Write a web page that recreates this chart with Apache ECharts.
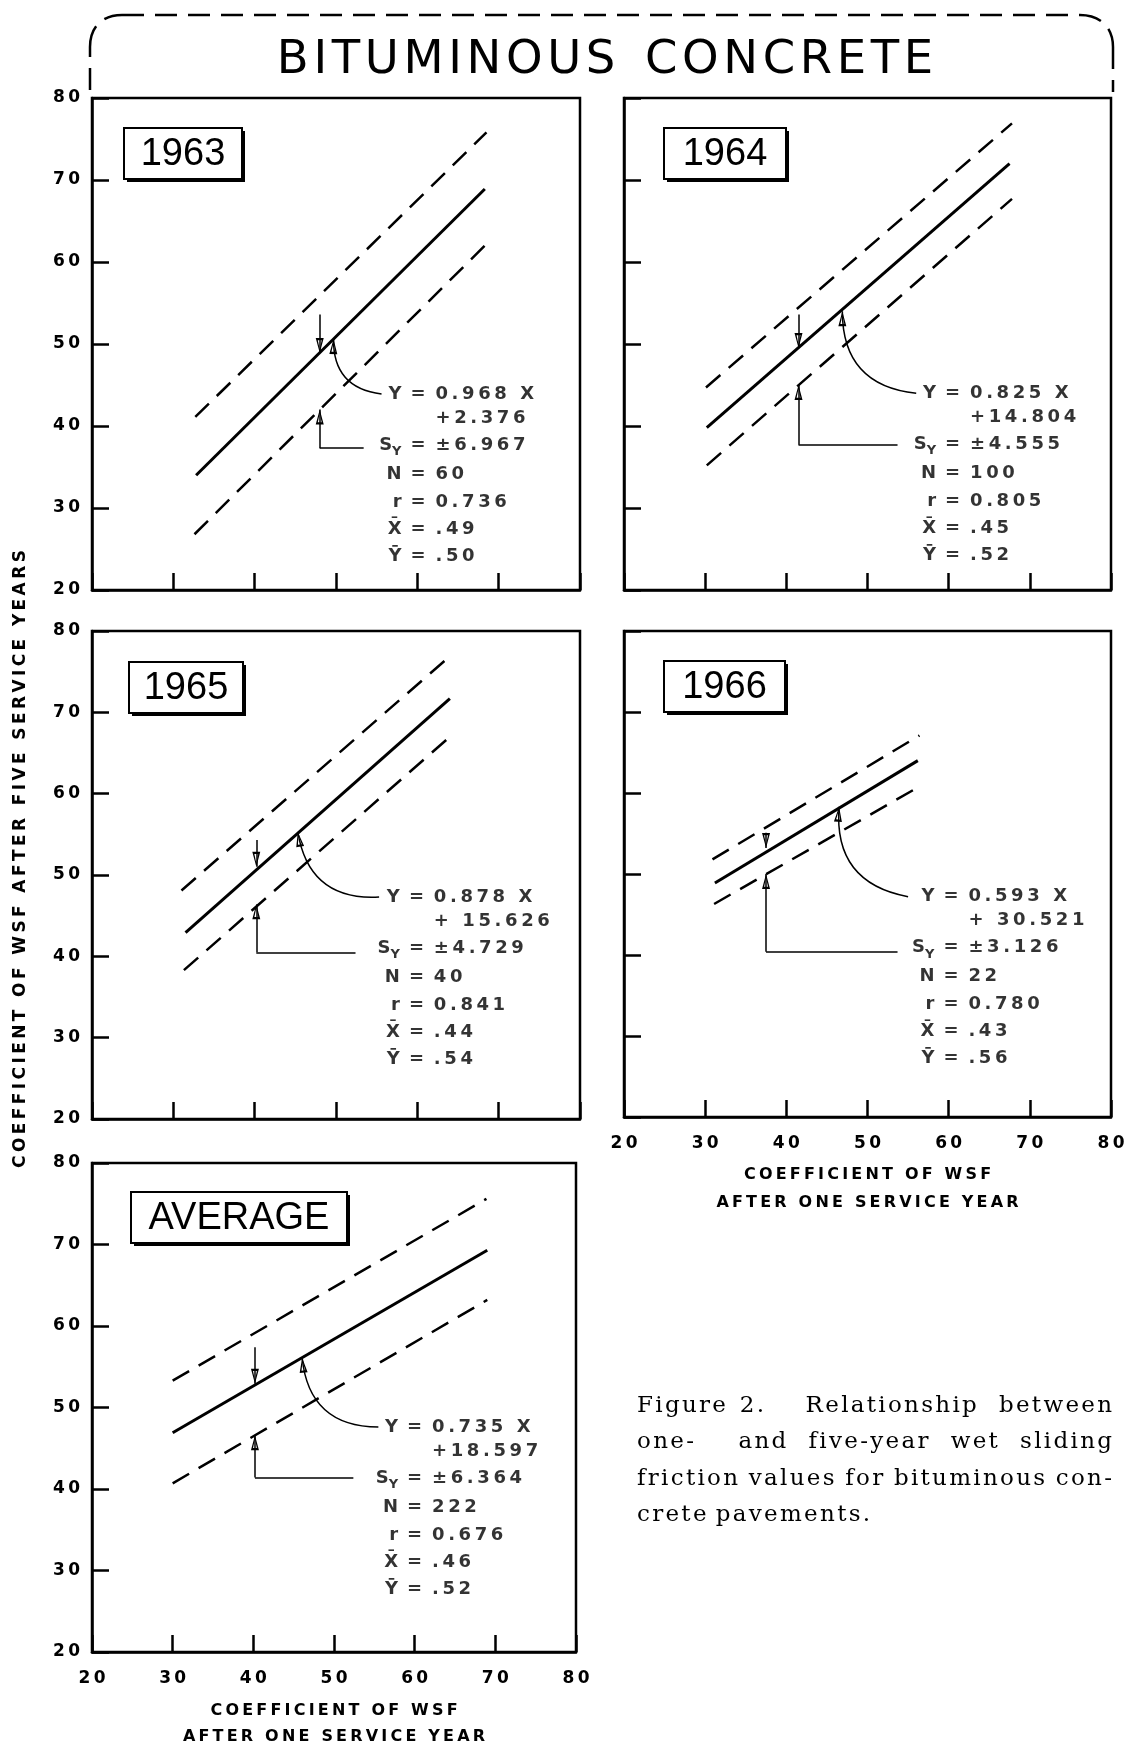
<!DOCTYPE html>
<html>
<head>
<meta charset="utf-8">
<title>Bituminous concrete - one- and five-year WSF</title>
<script src="https://cdn.jsdelivr.net/npm/echarts@6/dist/echarts.min.js"></script>
<style>
  html, body { margin: 0; padding: 0; background: #fff; }
  #chart { width: 1131px; height: 1742px; }
</style>
</head>
<body>
<div id="chart"></div>
<script>
// panels
var panelNames = ['1963', '1964', '1965', '1966', 'AVERAGE'];
var axisTicks = [20, 30, 40, 50, 60, 70, 80];

// regression line and the +/- Sy band, end points [x, y]
var fitLines = [
  [[32.8, 34.0], [68.3, 68.9]],
  [[30.2, 39.8], [67.5, 72.0]],
  [[31.5, 42.9], [64.0, 71.7]],
  [[31.2, 48.9], [56.2, 64.0]],
  [[30.0, 46.9], [69.0, 69.3]]
];
var upperLines = [
  [[32.7, 41.1], [68.5, 75.8]],
  [[30.1, 44.7], [67.8, 76.9]],
  [[31.0, 48.1], [64.0, 76.9]],
  [[30.9, 51.8], [56.4, 67.1]],
  [[30.0, 53.3], [68.9, 75.6]]
];
var lowerLines = [
  [[32.6, 26.8], [68.5, 62.2]],
  [[30.2, 35.2], [67.8, 67.7]],
  [[31.3, 38.3], [64.0, 67.0]],
  [[31.1, 46.3], [56.4, 60.8]],
  [[30.0, 40.7], [69.0, 63.2]]
];

// printed statistics
var slopes = ['0.968', '0.825', '0.878', '0.593', '0.735'];
var intercepts = ['+2.376', '+14.804', '+ 15.626', '+ 30.521', '+18.597'];
var stdErrors = ['\u00b16.967', '\u00b14.555', '\u00b14.729', '\u00b13.126', '\u00b16.364'];
var sampleSizes = ['60', '100', '40', '22', '222'];
var corrCoefs = ['0.736', '0.805', '0.841', '0.780', '0.676'];
var meanX = ['.49', '.45', '.44', '.43', '.46'];
var meanY = ['.50', '.52', '.54', '.56', '.52'];

// leader arrows, in data units
var downArrows = [[48.0, 53.6, 48.9], [41.5, 53.6, 49.5], [40.2, 54.3, 51.0], [37.5, 55.1, 53.2], [40.2, 57.4, 52.9]]; // x, from y, tip y
var syLeaders = [[53.4, 48.0, 37.3, 42.0], [53.7, 41.5, 37.7, 45.0], [52.4, 40.2, 40.5, 46.4], [53.7, 37.5, 40.4, 50.0], [52.4, 40.2, 41.4, 46.6]]; // x start, x corner, y, tip y
var fitLeaders = [[55.6, 43.9, 49.7, 50.6], [56.0, 44.0, 46.9, 54.0], [55.3, 47.3, 45.3, 55.3], [55.0, 47.2, 46.5, 58.3], [55.5, 47.6, 46.05, 56.1]]; // from x,y to tip x,y
var statAnchors = [[59.1, 43.9], [59.5, 44.0], [58.9, 47.3], [59.3, 47.2], [59.0, 47.6]]; // left edge of the first "="

// caption
var captionLines = [
  ['Figure', '2.', 'Relationship', 'between'],
  ['one-', 'and', 'five-year', 'wet', 'sliding'],
  ['friction', 'values', 'for', 'bituminous', 'con-'],
  ['crete', 'pavements.']
];

// ---- layout ----
var gridRects = [
  { left: 92, top: 98, width: 488, height: 492 },
  { left: 624, top: 98, width: 487, height: 492 },
  { left: 92, top: 631, width: 488, height: 488 },
  { left: 624, top: 631, width: 487, height: 486 },
  { left: 92, top: 1163, width: 484, height: 489 }
];
var tagBoxes = [[32, 30, 118], [40, 30, 122], [37, 31, 114], [40, 30, 121], [39, 29, 216]]; // dx, dy, width
var showYLabels = [true, false, true, false, true];
var showXLabels = [false, false, false, true, true];
var statLineOffsets = [0, 24, 51, 80, 108, 135, 162];

var LETTER = 'DejaVu Sans';
var ARROW = 'path://M5,0L5,0.01M5,20L10,40L0,40Z M5,25L2.6,37L7.4,37Z';

// stretch lettering a little, the original is hand-lettered and wide set
function spaced(s, gap) {
  gap = gap || '\u2009';
  var out = '';
  for (var i = 0; i < s.length; i++) {
    var c = s.charAt(i);
    if (i > 0 && !/[\u0300-\u036f]/.test(c)) out += gap;
    out += c;
  }
  return out;
}
function constFn(s) { return function () { return s; }; }

var measureCtx = document.createElement('canvas').getContext('2d');
function textWidth(str, font) {
  measureCtx.font = font;
  return measureCtx.measureText(str).width;
}

var chart = echarts.init(document.getElementById('chart'));

var grids = [], xAxes = [], yAxes = [], series = [], graphics = [];

panelNames.forEach(function (name, i) {
  var g = gridRects[i];
  grids.push({
    left: g.left, top: g.top, width: g.width, height: g.height,
    show: true, borderColor: '#000', borderWidth: 2.5,
    containLabel: false, outerBoundsMode: 'none'
  });

  xAxes.push({
    gridIndex: i, type: 'value', min: axisTicks[0], max: axisTicks[axisTicks.length - 1], interval: 10,
    axisLine: { show: true, onZero: false, lineStyle: { color: '#000', width: 2.5 } },
    axisTick: { show: true, inside: true, length: 17, lineStyle: { color: '#000', width: 2.5 } },
    splitLine: { show: false },
    axisLabel: {
      show: showXLabels[i], margin: 18, color: '#000', fontFamily: LETTER, fontWeight: 'bold', fontSize: 17,
      showMinLabel: true, showMaxLabel: true,
      formatter: function (v) { return spaced(String(v)); }
    },
    name: showXLabels[i] ? spaced('COEFFICIENT OF WSF') + '\n' + spaced('AFTER ONE SERVICE YEAR') : '',
    nameLocation: 'middle', nameGap: i === 4 ? 46 : 44,
    nameTextStyle: { color: '#000', fontFamily: LETTER, fontWeight: 'bold', fontSize: 16, lineHeight: i === 4 ? 26 : 28 }
  });

  yAxes.push({
    gridIndex: i, type: 'value', min: axisTicks[0], max: axisTicks[axisTicks.length - 1], interval: 10,
    axisLine: { show: true, onZero: false, lineStyle: { color: '#000', width: 2.5 } },
    axisTick: { show: true, inside: true, length: 17, lineStyle: { color: '#000', width: 2.5 } },
    splitLine: { show: false },
    axisLabel: {
      show: showYLabels[i], margin: 12, color: '#000', fontFamily: LETTER, fontWeight: 'bold', fontSize: 17,
      showMinLabel: true, showMaxLabel: true,
      formatter: function (v) { return spaced(String(v)); }
    }
  });

  var d = downArrows[i], s = syLeaders[i], f = fitLeaders[i];
  series.push({
    name: name + ' fit', type: 'line', xAxisIndex: i, yAxisIndex: i,
    data: fitLines[i], showSymbol: false, silent: true,
    lineStyle: { color: '#000', width: 3 },
    markLine: {
      silent: true, animation: false,
      symbol: ['none', ARROW], symbolSize: [8, 30],
      label: { show: false },
      lineStyle: { color: '#000', width: 1.5, type: 'solid' },
      data: [
        [{ coord: [d[0], d[1]] }, { coord: [d[0], d[2]] }],
        [{ coord: [s[0], s[2]] }, { coord: [s[1], s[2]], symbol: 'none' }],
        [{ coord: [s[1], s[2]] }, { coord: [s[1], s[3]] }]
      ]
    }
  });
  [upperLines[i], lowerLines[i]].forEach(function (band, k) {
    series.push({
      name: name + (k ? ' lower' : ' upper'), type: 'line', xAxisIndex: i, yAxisIndex: i,
      data: band, showSymbol: false, silent: true,
      lineStyle: { color: '#000', width: 2.5, type: [19, 11] }
    });
  });
  // curved leader from the equation to the fitted line
  series.push({
    name: name + ' leader', type: 'lines', coordinateSystem: 'cartesian2d', xAxisIndex: i, yAxisIndex: i,
    silent: true, symbol: ['none', ARROW], symbolSize: [[8, 30], [8, 30]],
    lineStyle: { color: '#000', width: 1.5, curveness: 0.45, opacity: 1 },
    data: [{ coords: [[f[0], f[1]], [f[2], f[3]]] }]
  });

  // statistics block
  var statFont = { fontFamily: LETTER, fontWeight: 'bold', fontSize: 18, color: '#000' };
  var lines = [
    ['{k|Y}', '{e|=}{v|' + spaced(' ' + slopes[i] + ' X') + '}'],
    ['', '{h|=}{v|' + spaced(' ' + intercepts[i]) + '}'],
    ['{k|S}{sub|Y}', '{e|=}{v|' + spaced(' ' + stdErrors[i]) + '}'],
    ['{k|N}', '{e|=}{v|' + spaced(' ' + sampleSizes[i]) + '}'],
    ['{k|r}', '{e|=}{v|' + spaced(' ' + corrCoefs[i]) + '}'],
    ['{k|X\u0304}', '{e|=}{v|' + spaced(' ' + meanX[i]) + '}'],
    ['{k|Y\u0304}', '{e|=}{v|' + spaced(' ' + meanY[i]) + '}']
  ];
  var items = [];
  lines.forEach(function (ln, j) {
    var dy = statLineOffsets[j];
    if (ln[0]) items.push({ value: statAnchors[i], label: { position: 'left', distance: 8, offset: [0, dy], formatter: constFn(ln[0]) } });
    items.push({ value: statAnchors[i], label: { position: 'right', distance: 0, offset: [0, dy], formatter: constFn(ln[1]) } });
  });
  series.push({
    name: name + ' stats', type: 'scatter', xAxisIndex: i, yAxisIndex: i,
    symbolSize: 1, itemStyle: { color: 'rgba(0,0,0,0)' }, silent: true, z: 5,
    label: {
      show: true, fontFamily: LETTER, fontWeight: 'bold', fontSize: 18, color: '#000',
      rich: {
        k: Object.assign({ lineHeight: 26 }, statFont),
        sub: { fontFamily: LETTER, fontWeight: 'bold', fontSize: 13, lineHeight: 13, verticalAlign: 'bottom', color: '#000' },
        e: statFont,
        h: Object.assign({}, statFont, { color: 'rgba(0,0,0,0)' }),
        v: statFont
      }
    },
    data: items
  });

  // year tag in a shadowed box
  var t = tagBoxes[i], bx = g.left + t[0], by = g.top + t[1], bw = t[2], bh = 51;
  graphics.push({
    type: 'group', z: 10, children: [
      { type: 'rect', shape: { x: bx + 3, y: by + 3, width: bw, height: bh }, style: { fill: '#000' } },
      { type: 'rect', shape: { x: bx, y: by, width: bw, height: bh }, style: { fill: '#fff', stroke: '#000', lineWidth: 2 } },
      { type: 'text', x: bx + bw / 2, y: by + bh / 2 + 1, style: { text: name, fontFamily: 'Liberation Sans', fontSize: 38, fill: '#000', align: 'center', verticalAlign: 'middle' } }
    ]
  });
});

// heading and its dashed bracket
var dash = { stroke: '#000', lineWidth: 2.5, lineDash: [22, 11], fill: null };
graphics.push(
  { type: 'line', shape: { x1: 90, y1: 90, x2: 90, y2: 47 }, style: dash },
  { type: 'bezierCurve', shape: { x1: 90, y1: 47, cpx1: 90, cpy1: 27, cpx2: 102, cpy2: 15, x2: 122, y2: 15 }, style: dash },
  { type: 'line', shape: { x1: 122, y1: 15, x2: 1080, y2: 15 }, style: dash },
  { type: 'bezierCurve', shape: { x1: 1080, y1: 15, cpx1: 1100, cpy1: 15, cpx2: 1113, cpy2: 27, x2: 1113, y2: 47 }, style: dash },
  { type: 'line', shape: { x1: 1113, y1: 47, x2: 1113, y2: 92 }, style: dash },
  {
    type: 'text', x: 605, y: 61,
    style: { text: spaced('BITUMINOUS', '\u200a') + '  ' + spaced('CONCRETE', '\u200a'), fontFamily: LETTER, fontSize: 46.5, fill: '#000', align: 'center', verticalAlign: 'middle' }
  },
  {
    type: 'text', x: 21, y: 859, rotation: Math.PI / 2,
    style: { text: spaced('COEFFICIENT OF WSF AFTER FIVE SERVICE YEARS'), fontFamily: LETTER, fontWeight: 'bold', fontSize: 17, fill: '#000', align: 'center', verticalAlign: 'middle' }
  }
);

// caption, justified like the printed page
var capSize = 23;
var capFont = capSize + 'px "DejaVu Serif"';
var capLeft = 637, capRight = 1112, capTop = 1406, capStep = 36.5;
var capGapWeights = [[1, 3, 1.6], [2, 1, 1, 1], [1, 1, 1, 1], null];
captionLines.forEach(function (words, li) {
  var texts = words.map(function (w) { return spaced(w, '\u200a'); });
  var widths = texts.map(function (w) { return textWidth(w, capFont); });
  var weights = capGapWeights[li];
  var x = capLeft, unit;
  if (weights) {
    var free = (capRight - capLeft) - widths.reduce(function (a, b) { return a + b; }, 0);
    unit = Math.max(free / weights.reduce(function (a, b) { return a + b; }, 0), 6);
  }
  texts.forEach(function (w, k) {
    graphics.push({
      type: 'text', x: x, y: capTop + li * capStep,
      style: { text: w, fontFamily: 'DejaVu Serif', fontSize: capSize, fill: '#000', align: 'left', verticalAlign: 'middle' }
    });
    x += widths[k] + (weights ? unit * weights[k] : textWidth(' ', capFont) + 2);
  });
});

chart.setOption({
  animation: false,
  backgroundColor: '#fff',
  grid: grids,
  xAxis: xAxes,
  yAxis: yAxes,
  series: series,
  graphic: graphics
});
</script>
</body>
</html>
